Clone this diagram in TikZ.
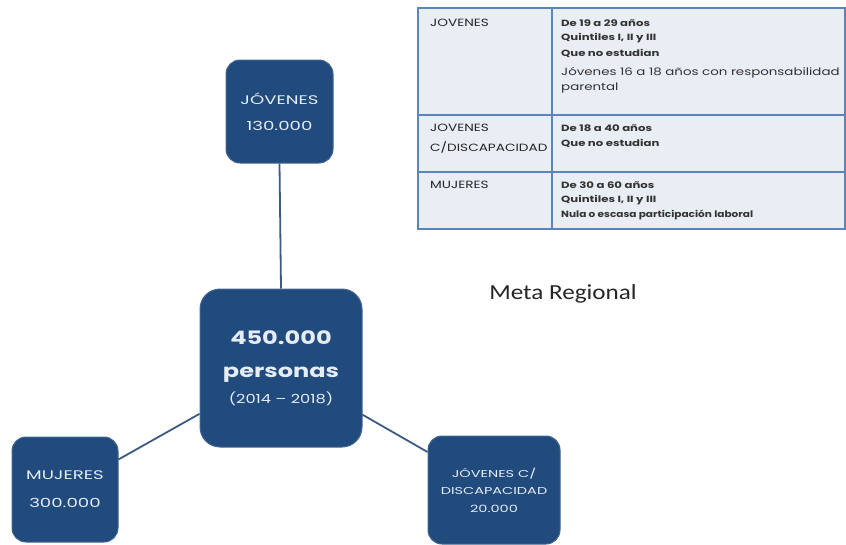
\documentclass[tikz,border=0pt]{standalone}
\usepackage{fontspec}
\setmainfont[FakeStretch=1.3]{Poppins}
\newfontfamily\wide[FakeStretch=1.45]{Poppins}
\newfontfamily\calib[FakeStretch=1.17]{Carlito}
\definecolor{boxblue}{HTML}{214A7D}
\definecolor{linecol}{HTML}{3D5A80}
\definecolor{tabfill}{HTML}{E9EDF4}
\definecolor{tabline}{HTML}{5A84BA}
\definecolor{boxtext}{HTML}{E6ECF5}
\begin{document}
\begin{tikzpicture}[x=1pt,y=-1pt,
  bluebox/.style={draw=boxblue!85!white, line width=1pt, fill=boxblue, rounded corners=14pt,
     text=boxtext, align=center, inner sep=0pt},
  conn/.style={draw=linecol, line width=1.8pt},
  tablbl/.style={anchor=west, inner sep=0pt, font=\fontsize{10.5}{12}\selectfont, text=black!85},
  tabtxt/.style={anchor=west, inner sep=0pt, font=\bfseries\fontsize{9}{10}\selectfont, text=black!80}]
\useasboundingbox (0,0) rectangle (846,544);
% table
\fill[tabfill] (418,8) rectangle (845,229);
\draw[tabline, line width=1.5pt] (418,8) rectangle (845,229);
\draw[tabline, line width=1.5pt] (552,8) -- (552,229);
\draw[tabline, line width=1.5pt] (418,115) -- (845,115);
\draw[tabline, line width=1.5pt] (418,172) -- (845,172);
\node[tablbl] (t1) at (430,23) {JOVENES};
\node[tablbl] (t2) at (430,128) {JOVENES};
\node[tablbl] (t3) at (430,147) {C/DISCAPACIDAD};
\node[tablbl] (t4) at (430,185) {MUJERES};
\node[tabtxt] (a1) at (561,23) {De 19 a 29 años};
\node[tabtxt] (a2) at (561,38) {Quintiles I, II y III};
\node[tabtxt] (a3) at (561,53) {Que no estudian};
\node[tabtxt, font=\fontsize{10.3}{12}\selectfont] (a4) at (561,73) {Jóvenes 16 a 18 años con responsabilidad};
\node[tabtxt, font=\fontsize{10.3}{12}\selectfont] (a5) at (561,88) {parental};
\node[tabtxt] (b1) at (561,128) {De 18 a 40 años};
\node[tabtxt] (b2) at (561,143) {Que no estudian};
\node[tabtxt] (c1) at (561,185) {De 30 a 60 años};
\node[tabtxt] (c2) at (561,200) {Quintiles I, II y III};
\node[tabtxt] (c3) at (561,215) {\scalebox{0.9}[1]{Nula o escasa participación laboral}};
% meta regional
\node[inner sep=0pt, font=\calib\fontsize{21.5}{24}\selectfont, text=black!85] (meta) at (563,294) {Meta Regional};
% boxes
\node[bluebox, minimum width=107pt, minimum height=103pt, font=\wide\fontsize{12.5}{26}\selectfont] (jov) at (279.5,111.5) {JÓVENES\\130.000};
\node[bluebox, rounded corners=20pt, minimum width=162pt, minimum height=158pt, font=\fontsize{18.5}{33}\selectfont] (cen) at (281,368)
  {{\bfseries 450.000}\\{\bfseries personas}\\[-7pt]{\fontsize{12.5}{13}\selectfont (2014 – 2018)}};
\node[bluebox, minimum width=106pt, minimum height=105pt, font=\wide\fontsize{12.5}{28}\selectfont] (muj) at (65,489.5) {MUJERES\\300.000};
\node[bluebox, minimum width=132pt, minimum height=108pt, font=\wide\fontsize{10}{17.5}\selectfont] (jdc) at (494,490) {JÓVENES C/\\DISCAPACIDAD\\20.000};
% connectors
\draw[conn] (jov.south) -- (cen.north);
\draw[conn] (cen) -- (muj);
\draw[conn] (cen) -- (jdc);
\end{tikzpicture}
\end{document}
